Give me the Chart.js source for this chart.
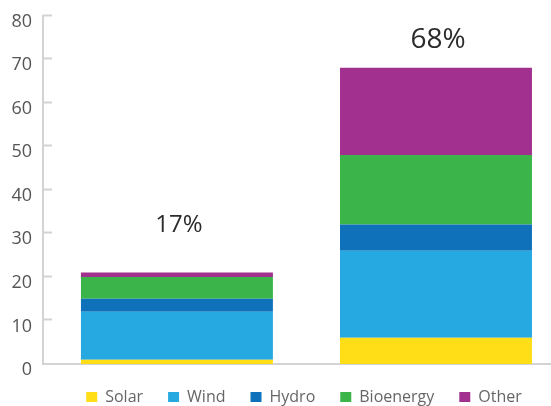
<!DOCTYPE html>
<html><head><meta charset="utf-8">
<script src="https://cdn.jsdelivr.net/npm/chart.js@4/dist/chart.umd.min.js"></script>
<style>html,body{margin:0;padding:0;background:#fff;overflow:hidden}canvas{display:block}</style>
</head><body>
<canvas id="c" width="551" height="406"></canvas>
<script>
// ---- data ----
const categories = ['Bar 1', 'Bar 2'];
const shareLabels = ['17%', '68%'];
const shareLabelAt = [30.4, 72.5];   // value level of each share label's baseline
const solar = [1, 6];
const wind = [11, 20];
const hydro = [3, 6];
const bioenergy = [5, 16];
const other = [1, 20];
const yTickValues = [0, 10, 20, 30, 40, 50, 60, 70, 80];

const seriesNames = ['Solar', 'Wind', 'Hydro', 'Bioenergy', 'Other'];
const seriesValues = [solar, wind, hydro, bioenergy, other];
const seriesColors = ['#FFDD17', '#25A9E0', '#0F71BA', '#3BB44A', '#A1308F'];

const FONT = "'Open Sans', sans-serif";

const decor = {
  id: 'decor',
  afterLayout(chart) {
    if (chart.legend) { chart.legend.left += 7; chart.legend.right += 7; }
  },
  beforeDatasetsDraw(chart) {
    const {ctx, scales: {x, y}} = chart;
    ctx.save();
    ctx.strokeStyle = '#d3d3d3';
    ctx.lineWidth = 2;
    y.ticks.forEach(t => {
      if (t.value === 0) return;
      const py = Math.round(y.getPixelForValue(t.value)) - 0.5;
      ctx.beginPath();
      ctx.moveTo(chart.chartArea.left, py);
      ctx.lineTo(chart.chartArea.left + 9, py);
      ctx.stroke();
    });
    ctx.restore();
  },
  afterDraw(chart) {
    const {ctx, scales: {x, y}} = chart;
    ctx.save();
    ctx.fillStyle = '#2b2b2b';
    ctx.textAlign = 'center';
    ctx.textBaseline = 'alphabetic';
    shareLabels.forEach((s, i) => {
      ctx.font = (i === 0 ? 24 : 28) + 'px ' + FONT;
      ctx.fillText(s, x.getPixelForValue(i) + 2, y.getPixelForValue(shareLabelAt[i]));
    });
    ctx.restore();
  }
};

new Chart(document.getElementById('c'), {
  type: 'bar',
  data: {
    labels: categories,
    datasets: seriesNames.map((n, k) => ({
      label: n,
      data: seriesValues[k].map((v, i) => ({x: i, y: v})),
      backgroundColor: seriesColors[k],
      borderWidth: 0,
      barPercentage: 0.741,
      categoryPercentage: 1
    }))
  },
  options: {
    responsive: false,
    animation: false,
    layout: {padding: {top: 15.5, right: 0, bottom: -9, left: 0}},
    plugins: {
      tooltip: {enabled: false},
      legend: {
        position: 'bottom',
        fullSize: false,
        labels: {
          boxWidth: 11, boxHeight: 10,
          padding: 25,
          color: '#666666',
          font: {family: FONT, size: 16}
        }
      }
    },
    scales: {
      x: {
        type: 'linear',
        stacked: true,
        offset: false,
        min: -0.517, max: 1.444,
        afterBuildTicks(scale) { scale.ticks = categories.map((c, i) => ({value: i})); },
        ticks: {display: false},
        grid: {display: false, drawTicks: false, offset: false},
        border: {display: true, color: '#d3d3d3', width: 2}
      },
      y: {
        stacked: true,
        min: 0, max: 80,
        afterBuildTicks(scale) { scale.ticks = yTickValues.map(v => ({value: v})); },
        afterFit(scale) { scale.width = 43; scale.paddingTop = 0; scale.paddingBottom = 0; },
        ticks: {
          color: '#555555',
          font: {family: FONT, size: 18},
          padding: 11,
          labelOffset: 6
        },
        grid: {display: false, drawTicks: false},
        border: {display: true, color: '#d3d3d3', width: 2}
      }
    }
  },
  plugins: [decor]
});
</script>
</body></html>
